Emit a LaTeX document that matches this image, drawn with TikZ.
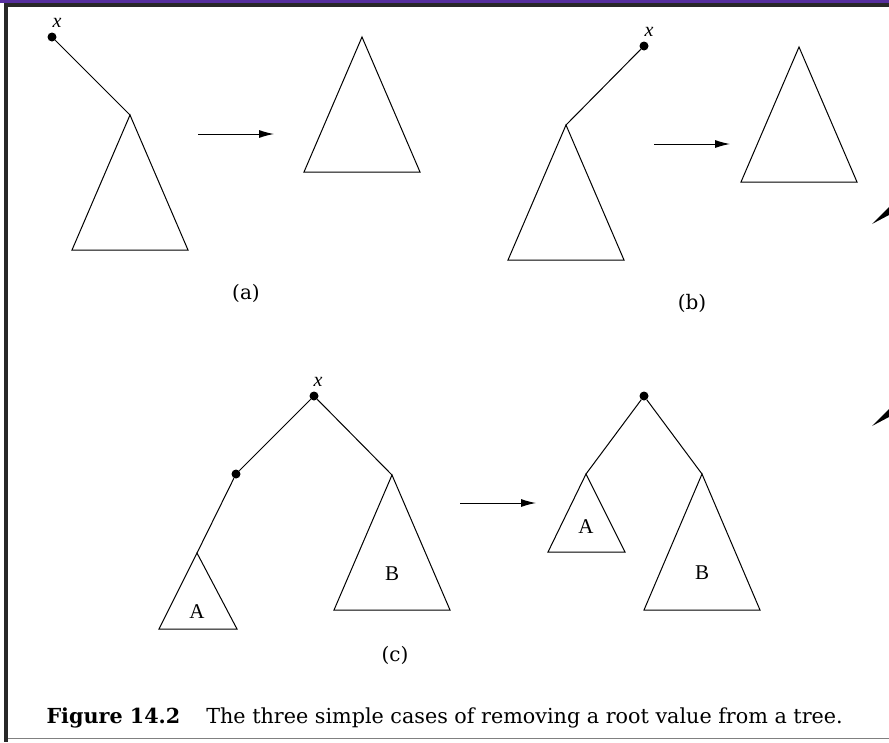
\documentclass[tikz,border=0pt]{standalone}
\usepackage{fontspec}
\setmainfont{DejaVu Serif}
\newfontfamily\lblfont{Liberation Serif}
\usetikzlibrary{arrows.meta,positioning}
\definecolor{barpurple}{RGB}{86,46,158}
\definecolor{framegray}{RGB}{40,40,40}
\tikzset{
  rm/dot/.style={circle, fill=black, inner sep=0pt, minimum size=9pt},
  rm/edge/.style={line width=1pt},
  rm/tri/.style={line width=1pt, line join=miter},
  rm/arrow/.style={line width=1pt, -{Latex[length=15pt,width=8pt]}},
  rm/key/.style={font=\lblfont\itshape\fontsize{20}{22}\selectfont, inner sep=0pt},
  rm/sub/.style={font=\lblfont\fontsize{21}{24}\selectfont, inner sep=0pt},
  rm/case/.style={font=\fontsize{20}{24}\selectfont, inner sep=0pt},
  rm/caption/.style={font=\fontsize{20.7}{24}\selectfont, inner sep=0pt, anchor=base east}
}

\begin{document}
\begin{tikzpicture}[x=1pt, y=-1pt, node distance=6pt]
  \useasboundingbox (0,0) rectangle (889,742);
  % page frame
  \fill[barpurple] (0,0) rectangle (889,3);
  \fill[framegray] (4,3) rectangle (889,7);
  \fill[framegray] (4,3) rectangle (8,742);
  \draw[gray, line width=1.2pt] (8,738.5) -- (889,738.5);
  \fill (872,224) -- (889,207) -- (889,215) -- cycle;
  \fill (872,426) -- (889,409) -- (889,417) -- cycle;

  % (a) root with one child on the left
  \node[rm/dot] (xa) at (52,37) {};
  \node[rm/key, above=5pt of xa, xshift=5pt] (kxa) {x};
  \coordinate (ta) at (130,115);
  \draw[rm/edge] (xa) -- (ta);
  \draw[rm/tri] (ta) -- ++(-58,135) -- ++(116,0) -- cycle;
  \coordinate (aa0) at (198,134);
  \coordinate (aa1) at (274,134);
  \draw[rm/arrow] (aa0) -- (aa1);
  \coordinate (ra) at (362,37);
  \draw[rm/tri] (ra) -- ++(-58,135) -- ++(116,0) -- cycle;
  \node[rm/case] (capa) at (246,293) {(a)};

  % (b) root with one child on the right
  \node[rm/dot] (xb) at (644,46) {};
  \node[rm/key, above=5pt of xb, xshift=5pt] (kxb) {x};
  \coordinate (tb) at (566,125);
  \draw[rm/edge] (xb) -- (tb);
  \draw[rm/tri] (tb) -- ++(-58,135) -- ++(116,0) -- cycle;
  \coordinate (ab0) at (654,144);
  \coordinate (ab1) at (730,144);
  \draw[rm/arrow] (ab0) -- (ab1);
  \coordinate (rb) at (799,47);
  \draw[rm/tri] (rb) -- ++(-58,135) -- ++(116,0) -- cycle;
  \node[rm/case] (capb) at (692,303) {(b)};

  % (c) left child has no right subtree
  \node[rm/dot] (xc) at (314,396) {};
  \node[rm/key, above=5pt of xc, xshift=4pt] (kxc) {x};
  \node[rm/dot] (lc) at (236,474) {};
  \coordinate (tA) at (197,553);
  \coordinate (tB) at (392,475);
  \draw[rm/edge] (xc) -- (lc);
  \draw[rm/edge] (lc) -- (tA);
  \draw[rm/edge] (xc) -- (tB);
  \draw[rm/tri] (tA) -- ++(-38,76) -- ++(78,0) -- cycle;
  \draw[rm/tri] (tB) -- ++(-58,135) -- ++(116,0) -- cycle;
  \node[rm/sub] (sA) at (197,612) {A};
  \node[rm/sub] (sB) at (392,574) {B};
  \coordinate (ac0) at (460,503);
  \coordinate (ac1) at (536,503);
  \draw[rm/arrow] (ac0) -- (ac1);
  \node[rm/dot] (rc) at (644,396) {};
  \coordinate (uA) at (586,474);
  \coordinate (uB) at (702,474);
  \draw[rm/edge] (rc) -- (uA);
  \draw[rm/edge] (rc) -- (uB);
  \draw[rm/tri] (uA) -- ++(-38,78) -- ++(77,0) -- cycle;
  \draw[rm/tri] (uB) -- ++(-58,136) -- ++(116,0) -- cycle;
  \node[rm/sub] (vA) at (586,527) {A};
  \node[rm/sub] (vB) at (702,573) {B};
  \node[rm/case] (capc) at (395,655) {(c)};

  \node[rm/caption] (cap) at (843,723) {\textbf{Figure 14.2}\hspace{26pt}The three simple cases of removing a root value from a tree.};
\end{tikzpicture}
\end{document}
